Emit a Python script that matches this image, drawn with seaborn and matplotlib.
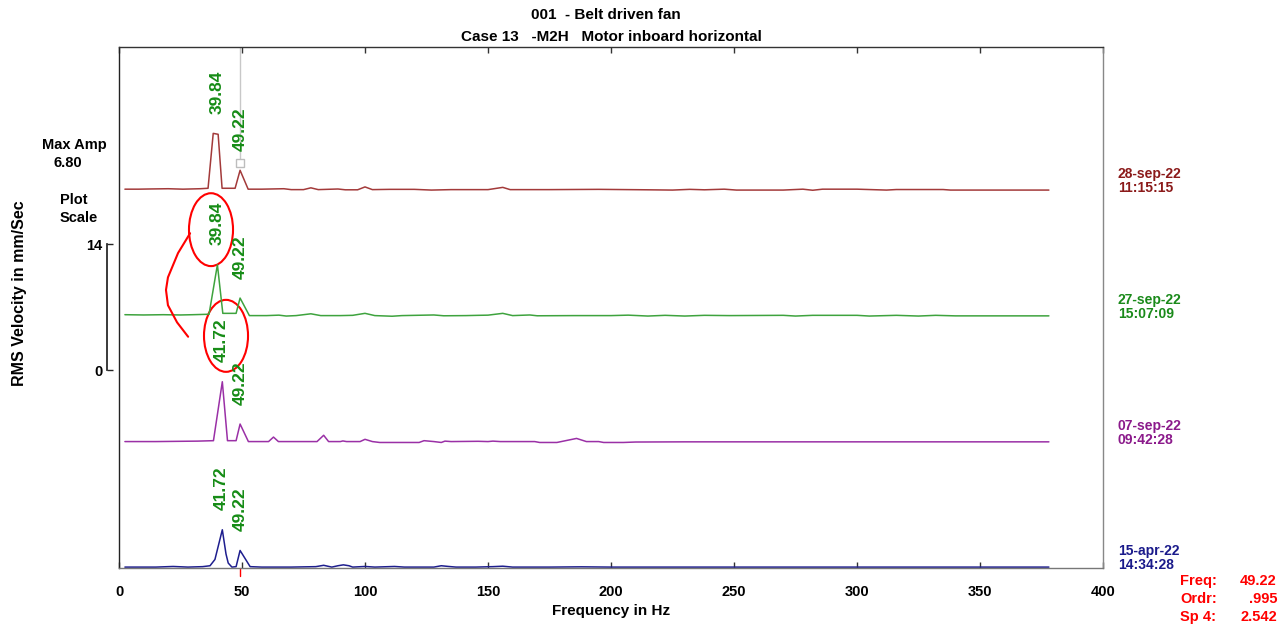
import matplotlib
matplotlib.use('Agg')
import matplotlib.pyplot as plt
import seaborn as sns
import pandas as pd
import numpy as np
from matplotlib.patches import Ellipse
from matplotlib import transforms

# Спектры (частота Гц, RMS скорость мм/с), сверху вниз
red_pts = [(2.4, 0.10), (8, 0.10), (12, 0.12), (20, 0.15), (26, 0.10), (33, 0.15), (36.2, 0.20),
           (38.3, 6.30), (40.3, 6.20), (41.9, 0.20), (47.2, 0.20), (49.22, 2.20), (52.5, 0.10),
           (58, 0.10), (67, 0.15), (70, 0.05), (75, 0.05), (78, 0.25), (81, 0.05), (89, 0.12),
           (92, 0.03), (97, 0.03), (100, 0.35), (103, 0.05), (110, 0.08), (120, 0.08), (127, 0.00),
           (135, 0.05), (150, 0.05), (156, 0.30), (159, 0.05), (175, 0.05), (195, 0.08), (215, 0.03),
           (225, 0.00), (232, 0.08), (238, 0.03), (246, 0.10), (251, 0.00), (270, 0.00), (278, 0.10),
           (282, -0.02), (286, 0.10), (300, 0.10), (312, 0.00), (316, 0.06), (335, 0.06), (338, 0.00),
           (378, 0.00)]
green_pts = [(2.4, 0.15), (10, 0.12), (18, 0.15), (25, 0.12), (30, 0.15), (36.6, 0.20), (40.0, 5.70),
             (42.2, 0.30), (47.6, 0.30), (49.22, 2.00), (53, 0.05), (60, 0.05), (65, 0.10), (68, 0.00),
             (72, 0.05), (78, 0.25), (82, 0.05), (90, 0.05), (95, 0.08), (100, 0.30), (104, 0.05),
             (111, -0.02), (115, 0.05), (128, 0.12), (132, 0.03), (141, 0.05), (146, 0.08), (150, 0.10),
             (156, 0.30), (160, 0.05), (167, 0.12), (170, 0.03), (185, 0.05), (200, 0.05), (207, 0.10),
             (215, 0.00), (222, 0.08), (230, 0.00), (238, 0.08), (248, 0.05), (270, 0.08), (275, 0.00),
             (282, 0.08), (300, 0.08), (305, 0.00), (316, 0.08), (325, 0.00), (332, 0.08), (340, 0.02),
             (378, 0.02)]
purple_pts = [(2.4, 0.05), (15, 0.05), (25, 0.08), (32, 0.10), (38.4, 0.15), (42.0, 6.70), (44.1, 0.15),
              (47.6, 0.15), (49.22, 2.00), (52.6, 0.05), (60.8, 0.05), (62.8, 0.55), (64.8, 0.05),
              (80.5, 0.05), (83.2, 0.75), (85.2, 0.05), (90, 0.05), (91, 0.12), (92.5, 0.05), (98, 0.05),
              (100, 0.30), (103, 0.05), (106, -0.05), (122, -0.05), (124, 0.15), (128, 0.05),
              (131, -0.05), (132.5, 0.10), (135, 0.05), (146, 0.08), (150, 0.05), (152, 0.10),
              (155, 0.05), (169, 0.05), (171, -0.05), (178, -0.05), (186, 0.40), (190, 0.05), (195, 0.05),
              (197, -0.05), (205, -0.05), (210, 0.00), (230, 0.02), (260, 0.02), (300, 0.02),
              (340, 0.02), (378, 0.02)]
blue_pts = [(2.4, 0.05), (15, 0.05), (22, 0.12), (28, 0.05), (34, 0.10), (37, 0.20), (39, 0.90),
            (42.0, 4.20), (43.5, 1.50), (44.4, 0.50), (45.9, 0.05), (47.6, 0.10), (49.22, 1.90),
            (53.3, 0.10), (58, 0.05), (70, 0.05), (80, 0.10), (83.2, 0.25), (86.5, 0.05), (89, 0.20),
            (91.2, 0.30), (93.5, 0.20), (95, 0.05), (100, 0.12), (104, 0.05), (112, 0.12), (116, 0.05),
            (128, 0.05), (131, 0.20), (134, 0.12), (137, 0.05), (145, 0.05), (152, 0.10), (156, 0.15),
            (160, 0.05), (175, 0.05), (188, 0.08), (200, 0.05), (250, 0.05), (300, 0.05), (378, 0.05)]

trace_dates = ['28-sep-22\n11:15:15', '27-sep-22\n15:07:09', '07-sep-22\n09:42:28', '15-apr-22\n14:34:28']
peak_labels = [[39.84, 49.22], [39.84, 49.22], [41.72, 49.22], [41.72, 49.22]]
cursor_freq = 49.22
readout_names = ['Freq:', 'Ordr:', 'Sp 4:']
readout_values = ['49.22', '.995', '2.542']
x_ticks = [0, 50, 100, 150, 200, 250, 300, 350, 400]

# оформление
offsets = [42.0, 28.0, 14.0, 0.05]
line_colors = ['#a33a3a', '#3ea33e', '#9a30a6', '#1e1e8e']
text_colors = ['#8b1a1a', '#1a8a1a', '#8b1a8b', '#1a1a8b']
label_green = '#168c16'

sns.set_theme(style='white')
plt.rcParams['font.family'] = ['Liberation Sans', 'DejaVu Sans']
plt.rcParams['font.weight'] = 'bold'
plt.rcParams['axes.labelweight'] = 'bold'
plt.rcParams['text.color'] = 'black'
plt.rcParams['axes.labelcolor'] = 'black'
plt.rcParams['xtick.labelcolor'] = 'black'
plt.rcParams['ytick.labelcolor'] = 'black'

frames = []
for name, pts, off in zip(trace_dates, [red_pts, green_pts, purple_pts, blue_pts], offsets):
    f, a = zip(*pts)
    frames.append(pd.DataFrame({'freq': f, 'amp': a, 'y': np.array(a) + off, 'trace': name}))
df = pd.concat(frames, ignore_index=True)

fig = plt.figure(figsize=(12.84, 6.24), dpi=100)
ax = fig.add_axes([119 / 1284, 1 - 568 / 624, 984 / 1284, 521 / 624])

sns.lineplot(data=df, x='freq', y='y', hue='trace', palette=dict(zip(trace_dates, line_colors)),
             estimator=None, sort=False, legend=False, lw=1.1, ax=ax)

ax.set_xlim(0, 400)
ax.set_ylim(0, 57.9)
ax.set_xticks(x_ticks)
ax.set_yticks([])
ax.tick_params(axis='x', direction='in', top=True, bottom=True, length=4, width=1,
               color='#333333', pad=12, labelsize=10.5)
ax.set_xlabel('Frequency in Hz', fontsize=11, labelpad=4)
ax.set_ylabel('')
for side, c in [('left', '#222222'), ('top', '#333333'), ('right', '#888888'), ('bottom', '#777777')]:
    ax.spines[side].set_color(c)
    ax.spines[side].set_linewidth(1)

# подписи пиков
for name, off, labels in zip(trace_dates, offsets, peak_labels):
    sub = df[df['trace'] == name]
    for lab in labels:
        top = sub.loc[(sub['freq'] - lab).abs() <= 2.5, 'y'].max()
        ax.annotate(f'{lab:.2f}', (lab, top), xytext=(0, 14), textcoords='offset points',
                    rotation=90, ha='center', va='bottom', fontsize=12.5, color=label_green)

# курсор
red_top = df[(df['trace'] == trace_dates[0]) & (df['freq'] == cursor_freq)]['y'].iloc[0]
ax.vlines(cursor_freq, red_top + 0.9, 57.9, color='#c8c8c8', lw=1, zorder=1)
ax.plot([cursor_freq], [red_top + 0.8], marker='s', ms=6, mfc='white', mec='#bdbdbd', mew=1)
ax.plot([cursor_freq, cursor_freq], [0, -0.9], color='red', lw=1, clip_on=False)

# даты справа
side = transforms.blended_transform_factory(ax.transAxes, ax.transData)
for name, off, c in zip(trace_dates, offsets, text_colors):
    ax.text(1.0152, off - 0.5, name, transform=side, ha='left', va='bottom', fontsize=10,
            color=c, linespacing=1.0)

# шкала слева
sec = ax.secondary_yaxis(-0.0122)
sec.set_yticks([22, 36], labels=['0', '14'])
sec.spines['left'].set_bounds(22, 36)
sec.spines['left'].set_color('#222222')
sec.tick_params(axis='y', direction='in', length=4, width=1, pad=3, labelsize=10.5)

fig.text(42 / 1284, 1 - 145 / 624, 'Max Amp', ha='left', va='center', fontsize=10.5)
fig.text(54 / 1284, 1 - 163 / 624, '6.80', ha='left', va='center', fontsize=10.5)
fig.text(60 / 1284, 1 - 200 / 624, 'Plot', ha='left', va='center', fontsize=10.5)
fig.text(60 / 1284, 1 - 218 / 624, 'Scale', ha='left', va='center', fontsize=10.5)
fig.text(20 / 1284, 1 - 293 / 624, 'RMS Velocity in mm/Sec', rotation=90, ha='center', va='center',
         fontsize=11.5)

fig.text(606 / 1284, 1 - 15 / 624, '001  - Belt driven fan', ha='center', va='center', fontsize=11)
fig.text(611 / 1284, 1 - 37 / 624, 'Case 13   -M2H   Motor inboard horizontal', ha='center',
         va='center', fontsize=11)

for i, (n, v) in enumerate(zip(readout_names, readout_values)):
    y = 1 - (581 + 18 * i) / 624
    fig.text(1180 / 1284, y, n, ha='left', va='center', fontsize=10.5, color='red')
    fig.text(1277 / 1284, y, v, ha='right', va='center', fontsize=10.5, color='red')

# красные пометки от руки
ax.add_patch(Ellipse((37.4, 37.6), 17.9, 8.1, fill=False, ec='red', lw=1.5, clip_on=False))
ax.add_patch(Ellipse((43.5, 25.8), 17.9, 8.0, fill=False, ec='red', lw=1.5, clip_on=False))
stroke_f = [28.9, 24.0, 19.9, 19.1, 19.9, 23.6, 28.1]
stroke_y = [37.2, 35.0, 32.3, 30.9, 29.2, 27.3, 25.7]
ax.plot(stroke_f, stroke_y, color='red', lw=1.5)

fig.savefig('out.png', dpi=100)
